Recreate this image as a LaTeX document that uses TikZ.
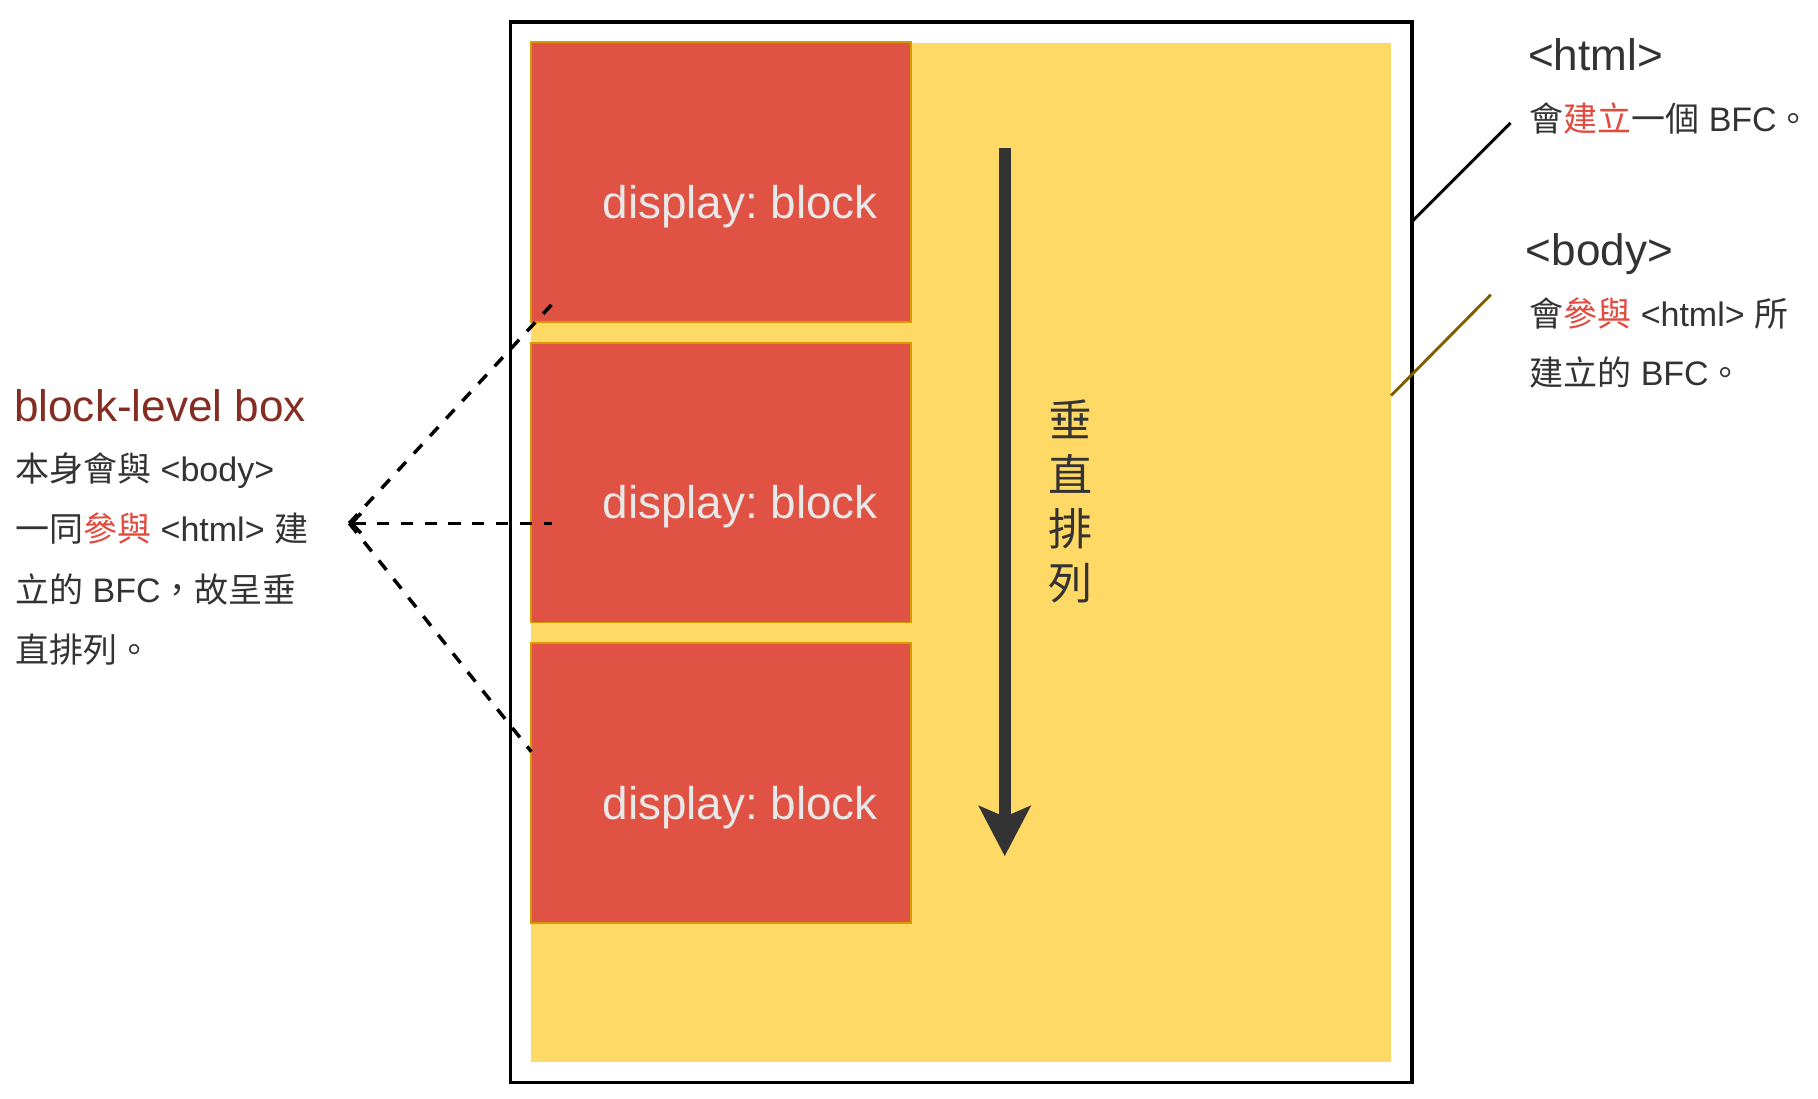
\documentclass[tikz,border=0pt]{standalone}
\usepackage{fontspec}
\setmainfont{Liberation Sans}
\newfontfamily\cjk{Noto Sans CJK TC}
\usetikzlibrary{arrows.meta}
\frenchspacing
\definecolor{bodyyellow}{HTML}{FFD966}
\definecolor{blockred}{HTML}{E05243}
\definecolor{blockedge}{HTML}{D79B00}
\definecolor{inkgray}{HTML}{333333}
\definecolor{hotred}{HTML}{E04B3D}
\definecolor{darkred}{HTML}{862D23}
\definecolor{pinbrown}{HTML}{7F6000}
\newcommand{\hotcjk}[1]{\textcolor{hotred}{\cjk #1}}
\begin{document}
\begin{tikzpicture}[x=1pt,y=-1pt,
		blockbox/.style={draw=blockedge,line width=1.5pt,fill=blockred,minimum width=328pt,minimum height=241pt,inner sep=0pt},
		blocktext/.style={text=white!91!black,font=\fontsize{39.5}{47}\selectfont,anchor=base,inner sep=0pt},
		titletext/.style={text=inkgray,font=\fontsize{38}{44}\selectfont,anchor=base west,inner sep=0pt},
		notetext/.style={text=inkgray,font=\fontsize{29.3}{35}\selectfont,anchor=base west,inner sep=0pt},
		dashlink/.style={line width=3pt,dash pattern=on 10.5pt off 10pt}]
		\useasboundingbox (0,0) rectangle (1567,946.5);
		\node[draw,line width=3pt,minimum width=777pt,minimum height=914pt,inner sep=0pt] (html) at (828.5,476) {};
		\node[fill=bodyyellow,minimum width=741pt,minimum height=878pt,inner sep=0pt] (body) at (828.5,476) {};
		\foreach \i/\y in {1/157,2/416,3/675}{
			\node[blockbox] (block\i) at (621.5,\y) {};
			\node[blocktext] (label\i) at ([shift={(16.5,31)}]block\i.center) {display: block};
		}
		\coordinate (flowtop) at (866,128);
		\coordinate (flowend) at (866,738);
		\draw[inkgray,line width=10.5pt,-{Stealth[length=43pt,width=44pt,inset=9pt]}] (flowtop)--(flowend);
		\node[text=inkgray,font=\fontsize{38}{46.8}\selectfont\cjk,align=center,inner sep=0pt] (flowtext) at (922.5,432.5) {垂\\直\\排\\列};
		\node[titletext] (htmltitle) at (1317,61) {<html>};
		\node[notetext] (htmlnote) at (1318,113.5) {{\cjk 會}\hotcjk{建立}{\cjk 一個} BFC{\cjk 。}};
		\node[titletext] (bodytitle) at (1315,229) {<body>};
		\node[notetext] (bodynote1) at (1318,281.5) {{\cjk 會}\hotcjk{參與} <html> {\cjk 所}};
		\node[notetext] (bodynote2) at (1318,332) {{\cjk 建立的} BFC{\cjk 。}};
		\coordinate (htmlpin) at (1217,191);
		\coordinate (htmltip) at (1302,106);
		\coordinate (bodypin) at (1199,341);
		\coordinate (bodytip) at (1285,254);
		\draw[line width=2.5pt] (htmlpin)--(htmltip);
		\draw[pinbrown,line width=2.5pt] (bodypin)--(bodytip);
		\node[titletext,text=darkred] (boxtitle) at (12,363.5) {block-level box};
		\node[notetext] (boxnote1) at (13,415) {{\cjk 本身會與} <body>};
		\node[notetext] (boxnote2) at (13,467) {{\cjk 一同}\hotcjk{參與} <html> {\cjk 建}};
		\node[notetext] (boxnote3) at (13,519) {{\cjk 立的} BFC{\cjk ，故呈垂}};
		\node[notetext] (boxnote4) at (13,571) {{\cjk 直排列。}};
		\coordinate (boxpin) at (301,451);
		\coordinate (toppin) at (476,262);
		\coordinate (midpin) at (476,451);
		\coordinate (lowpin) at (458,648);
		\draw[dashlink] (boxpin)--(toppin);
		\draw[dashlink] (boxpin)--(lowpin);
		\draw[dashlink,{Straight Barb[length=8pt,width=17pt]}-] (boxpin)--(midpin);
\end{tikzpicture}
\end{document}
